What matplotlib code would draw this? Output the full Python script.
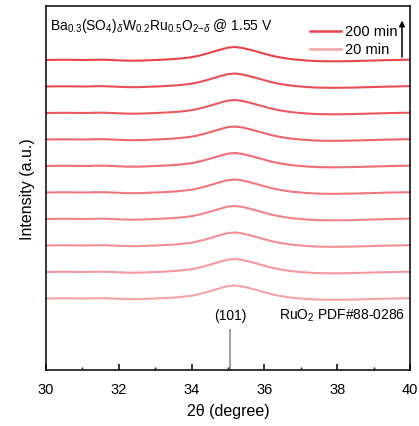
import numpy as np
import matplotlib.pyplot as plt
from matplotlib.colors import LinearSegmentedColormap

plt.rcParams['font.family'] = ['Liberation Sans', 'DejaVu Sans']
plt.rcParams['mathtext.fontset'] = 'custom'
plt.rcParams['mathtext.rm'] = 'Liberation Sans'
plt.rcParams['mathtext.it'] = 'Liberation Sans:italic'

# 2theta grid (degree) and the (101) profile above baseline (a.u.)
two_theta = [30.0, 30.2, 30.4, 30.6, 30.8, 31.0, 31.2, 31.4, 31.6, 31.8,
             32.0, 32.2, 32.4, 32.6, 32.8, 33.0, 33.2, 33.4, 33.6, 33.8,
             34.0, 34.2, 34.4, 34.6, 34.8, 35.0, 35.2, 35.4, 35.6, 35.8,
             36.0, 36.2, 36.4, 36.6, 36.8, 37.0, 37.2, 37.4, 37.6, 37.8,
             38.0, 38.2, 38.4, 38.6, 38.8, 39.0, 39.2, 39.4, 39.6, 39.8, 40.0]
profile = [0.0, 0.1, 0.2, 0.2, 0.1, 0.0, 0.1, 0.3, 0.3, 0.0,
           -0.3, -0.6, -0.7, -0.6, -0.3, 0.0, 0.3, 0.7, 1.2, 1.9,
           2.8, 4.3, 6.2, 8.3, 10.5, 12.4, 13.0, 12.0, 10.3, 8.3,
           6.3, 4.3, 2.8, 1.6, 0.6, 0.0, -0.6, -1.0, -1.2, -1.3,
           -1.3, -1.2, -1.1, -0.9, -0.7, -0.5, -0.3, -0.1, 0.0, 0.2, 0.3]

# in-situ scans, 20 min to 200 min
times = [20, 40, 60, 80, 100, 120, 140, 160, 180, 200]
offset_step = 26.5

# RuO2 reference PDF#88-0286
ref_pos = [35.05]
ref_int = [41.0]

cmap = LinearSegmentedColormap.from_list('scan', ['#f5a3a5', '#e8434a'])

fig = plt.figure(figsize=(4.19, 4.27), dpi=100)
ax = fig.add_axes([46 / 419, 56 / 427, 364 / 419, 364 / 427])

x = np.array(two_theta)
y = np.array(profile)
for i, t in enumerate(times):
    ax.plot(x, y + i * offset_step, color=cmap(i / (len(times) - 1)),
            lw=1.5, solid_capstyle='butt')

ymin = -71.5
ax.vlines(ref_pos, ymin, ymin + np.array(ref_int), color='#a0a0a0', lw=1.4)
ax.set_xlim(30, 40)
ax.set_ylim(ymin, ymin + 364)

ax.text(ref_pos[0], ymin + 55, '(101)', ha='center', va='center', fontsize=10)
ax.text(0.988, 55 / 364, r'RuO$_2$ PDF#88-0286', transform=ax.transAxes,
        ha='right', va='center', fontsize=10)
ax.text(0.012, 0.972,
        r'Ba$_{0.3}$(SO$_4$)$_{\delta}$W$_{0.2}$Ru$_{0.5}$O$_{2\mathrm{-}\delta}$ @ 1.55 V',
        transform=ax.transAxes, ha='left', va='top', fontsize=10)

# legend drawn by hand with the time arrow
ax.plot([0.725, 0.81], [0.932, 0.932], transform=ax.transAxes,
        color=cmap(1.0), lw=1.8)
ax.plot([0.725, 0.81], [0.882, 0.882], transform=ax.transAxes,
        color=cmap(0.0), lw=1.8)
ax.text(0.822, 0.932, '200 min', transform=ax.transAxes, va='center', fontsize=10.5)
ax.text(0.822, 0.882, '20 min', transform=ax.transAxes, va='center', fontsize=10.5)
ax.annotate('', xy=(0.978, 0.96), xytext=(0.978, 0.86), xycoords='axes fraction',
            arrowprops=dict(arrowstyle='-|>', color='black', lw=1.1,
                            mutation_scale=8, shrinkA=0, shrinkB=0))

ax.set_xticks([30, 32, 34, 36, 38, 40])
ax.set_xticks([31, 33, 35, 37, 39], minor=True)
ax.set_yticks([])
ax.tick_params(axis='x', which='major', direction='in', length=4, width=1.1,
               labelsize=10.5, pad=9)
ax.tick_params(axis='x', which='minor', direction='in', length=2.5, width=1.0)
for s in ax.spines.values():
    s.set_linewidth(1.1)

ax.set_xlabel('2θ (degree)', fontsize=11.5, labelpad=5)
ax.set_ylabel('Intensity (a.u.)', fontsize=11.5, labelpad=8)

fig.savefig('out.png', dpi=100)
